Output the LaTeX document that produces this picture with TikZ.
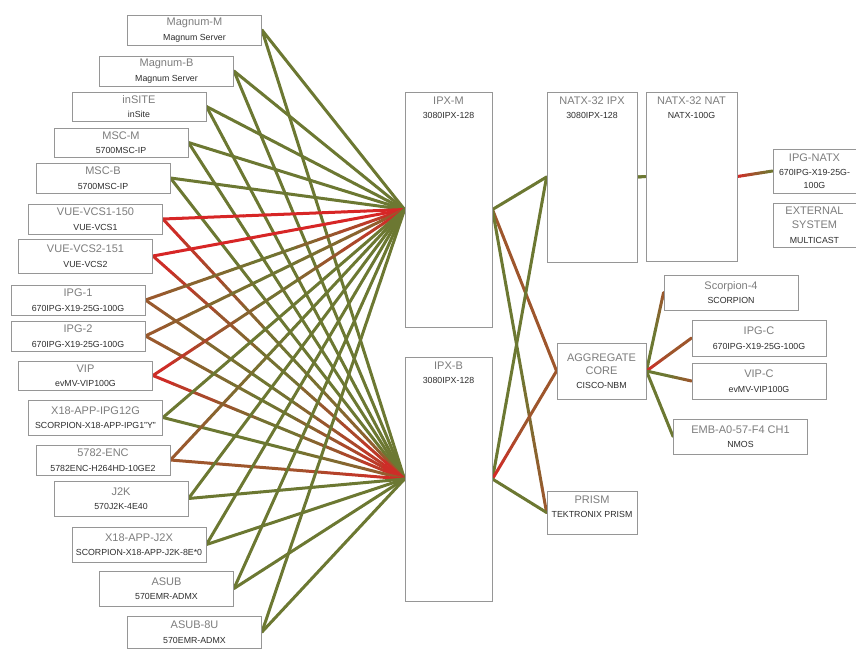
\documentclass[tikz,border=0pt]{standalone}
\usepackage{fontspec}
\setmainfont{Liberation Sans}
\usetikzlibrary{calc}
\definecolor{ol}{RGB}{108,120,50}
\definecolor{rd}{RGB}{215,38,38}
\definecolor{br}{RGB}{158,86,44}
\definecolor{bgrey}{RGB}{150,150,150}
\definecolor{tgrey}{RGB}{125,125,125}
\definecolor{sgrey}{RGB}{45,45,45}
\pgfdeclarelayer{bg}\pgfsetlayers{bg,main}
\newcommand\ttl{\fontsize{11}{12}\selectfont\color{tgrey}}
\newcommand\sbt{\fontsize{8.8}{10}\selectfont\color{sgrey}}
\newcommand\bt[2]{{\ttl #1}\\[2.5pt]{\sbt #2}}
% gradient link: from, to, start colour, middle colour, end colour
\newcommand\glink[5]{\foreach \i in {0,...,11}{%
  \pgfmathsetmacro\ta{\i/12}\pgfmathsetmacro\tb{(\i+1)/12}%
  \ifnum\i<6
    \pgfmathtruncatemacro\p{100-(200*\i+100)/12}%
    \draw[link,draw=#3!\p!#4] ($(#1)!\ta!(#2)$) -- ($(#1)!\tb!(#2)$);%
  \else
    \pgfmathtruncatemacro\p{(200*\i+100)/12-100}%
    \draw[link,draw=#5!\p!#4] ($(#1)!\ta!(#2)$) -- ($(#1)!\tb!(#2)$);%
  \fi}}
\tikzset{
  box/.style={draw=bgrey,fill=white,line width=0.9pt,inner sep=0pt,minimum width=134pt,align=center},
  link/.style={line width=3pt,line cap=round},
  txt/.style={inner sep=0pt,align=center}
}
\begin{document}
\begin{tikzpicture}[x=1pt,y=-1pt]
\useasboundingbox (0,0) rectangle (856,649);
% left column
\node[box,minimum height=30pt] (l1) at (194.5,30) {\bt{Magnum-M}{Magnum Server}};
\node[box,minimum height=30pt] (l2) at (166.5,71) {\bt{Magnum-B}{Magnum Server}};
\node[box,minimum height=29pt] (l3) at (139,106.5) {\bt{inSITE}{inSite}};
\node[box,minimum height=29pt] (l4) at (121,142.5) {\bt{MSC-M}{5700MSC-IP}};
\node[box,minimum height=30pt] (l5) at (103,178) {\bt{MSC-B}{5700MSC-IP}};
\node[box,minimum height=30pt] (l6) at (95.5,219) {\bt{VUE-VCS1-150}{VUE-VCS1}};
\node[box,minimum height=34pt] (l7) at (85.5,256) {\bt{VUE-VCS2-151}{VUE-VCS2}};
\node[box,minimum height=30pt] (l8) at (78,300) {\bt{IPG-1}{670IPG-X19-25G-100G}};
\node[box,minimum height=30pt] (l9) at (78,336) {\bt{IPG-2}{670IPG-X19-25G-100G}};
\node[box,minimum height=29pt] (l10) at (85.5,375.5) {\bt{VIP}{evMV-VIP100G}};
\node[box,minimum height=35pt] (l11) at (95.5,417.5) {\bt{X18-APP-IPG12G}{SCORPION-X18-APP-IPG1"Y"}};
\node[box,minimum height=30pt] (l12) at (103,460) {\bt{5782-ENC}{5782ENC-H264HD-10GE2}};
\node[box,minimum height=35pt] (l13) at (121,498.5) {\bt{J2K}{570J2K-4E40}};
\node[box,minimum height=35pt] (l14) at (139,544.5) {\bt{X18-APP-J2X}{SCORPION-X18-APP-J2K-8E*0}};
\node[box,minimum height=35pt] (l15) at (166.5,588.5) {\bt{ASUB}{570EMR-ADMX}};
\node[box,minimum height=32pt] (l16) at (194.5,632) {\bt{ASUB-8U}{570EMR-ADMX}};
% IPX
\node[box,minimum width=87pt,minimum height=235pt] (ipxm) at (448.5,209.5) {};
\node[txt,anchor=north] (ipxmt) at ([yshift=-5pt]ipxm.north) {\bt{IPX-M}{3080IPX-128}};
\node[box,minimum width=87pt,minimum height=244pt] (ipxb) at (448.5,479) {};
\node[txt,anchor=north] (ipxbt) at ([yshift=-5pt]ipxb.north) {\bt{IPX-B}{3080IPX-128}};
% NATX
\node[box,minimum width=90pt,minimum height=170pt] (natipx) at (592,177) {};
\node[txt,anchor=north] (natipxt) at ([yshift=-5pt]natipx.north) {\bt{NATX-32 IPX}{3080IPX-128}};
\node[box,minimum width=91pt,minimum height=169pt] (natnat) at (691.5,176.5) {};
\node[txt,anchor=north] (natnatt) at ([yshift=-5pt]natnat.north) {\bt{NATX-32 NAT}{NATX-100G}};
\node[box,minimum width=83pt,minimum height=44pt] (ipgnatx) at (814.5,171) {};
\node[txt,anchor=north] (ipgnatxt) at ([yshift=-5pt]ipgnatx.north) {{\ttl IPG-NATX}\\[2pt]{\sbt 670IPG-X19-25G-}\\[1pt]{\sbt 100G}};
\node[box,minimum width=83pt,minimum height=44pt] (ext) at (814.5,225) {};
\node[txt,anchor=north] (extt) at ([yshift=-4pt]ext.north) {{\ttl EXTERNAL}\\[2pt]{\ttl SYSTEM}\\[3pt]{\sbt MULTICAST}};
% aggregate
\node[box,minimum width=89pt,minimum height=56pt] (agg) at (601.5,371) {{\ttl AGGREGATE}\\[1pt]{\ttl CORE}\\[2pt]{\sbt CISCO-NBM}};
\node[box,minimum height=35pt] (scorp) at (731,292.5) {\bt{Scorpion-4}{SCORPION}};
\node[box,minimum height=36pt] (ipgc) at (759,338) {\bt{IPG-C}{670IPG-X19-25G-100G}};
\node[box,minimum height=36pt] (vipc) at (759,381) {\bt{VIP-C}{evMV-VIP100G}};
\node[box,minimum height=35pt] (emb) at (740.5,436.5) {\bt{EMB-A0-57-F4 CH1}{NMOS}};
\node[box,minimum width=90pt,minimum height=43pt] (prism) at (592,512.5) {};
\node[txt,anchor=north] (prismt) at ([yshift=-5pt]prism.north) {\bt{PRISM}{TEKTRONIX PRISM}};
% links
\begin{pgfonlayer}{bg}
\foreach \n/\cs/\mm/\cm/\mb/\cb in {l1/ol/ol/ol/ol/ol,l2/ol/ol/ol/ol/ol,l3/ol/ol/ol/ol/ol,
  l4/ol/ol/ol/ol/ol,l5/ol/ol/ol/ol/ol,
  l6/rd/rd/rd/ol/br,l7/rd/rd/rd/ol/rd,l8/br/ol/rd/ol/rd,l9/br/ol/br/ol/rd,
  l10/rd/ol/rd/ol/rd,l11/ol/ol/ol/ol/br,l12/br/ol/ol/br/rd,
  l13/ol/ol/ol/ol/ol,l14/ol/ol/ol/ol/ol,l15/ol/ol/ol/ol/ol,l16/ol/ol/ol/ol/ol}{
  \glink{\n.east}{ipxm.west}{\cs}{\mm}{\cm}
  \glink{\n.east}{ipxb.west}{\cs}{\mb}{\cb}
}
\glink{ipxm.east}{natipx.west}{ol}{ol}{ol}
\glink{ipxm.east}{agg.west}{br}{br}{br}
\glink{ipxm.east}{prism.west}{ol}{ol}{br}
\glink{ipxb.east}{natipx.west}{ol}{ol}{ol}
\glink{ipxb.east}{agg.west}{rd}{br}{br}
\glink{ipxb.east}{prism.west}{ol}{ol}{ol}
\glink{natipx.east}{natnat.west}{ol}{ol}{ol}
\glink{natnat.east}{ipgnatx.west}{rd}{br}{ol}
\glink{agg.east}{scorp.west}{ol}{ol}{br}
\glink{agg.east}{ipgc.west}{rd}{br}{br}
\glink{agg.east}{vipc.west}{ol}{ol}{br}
\glink{agg.east}{emb.west}{ol}{ol}{ol}
\end{pgfonlayer}
\end{tikzpicture}
\end{document}
